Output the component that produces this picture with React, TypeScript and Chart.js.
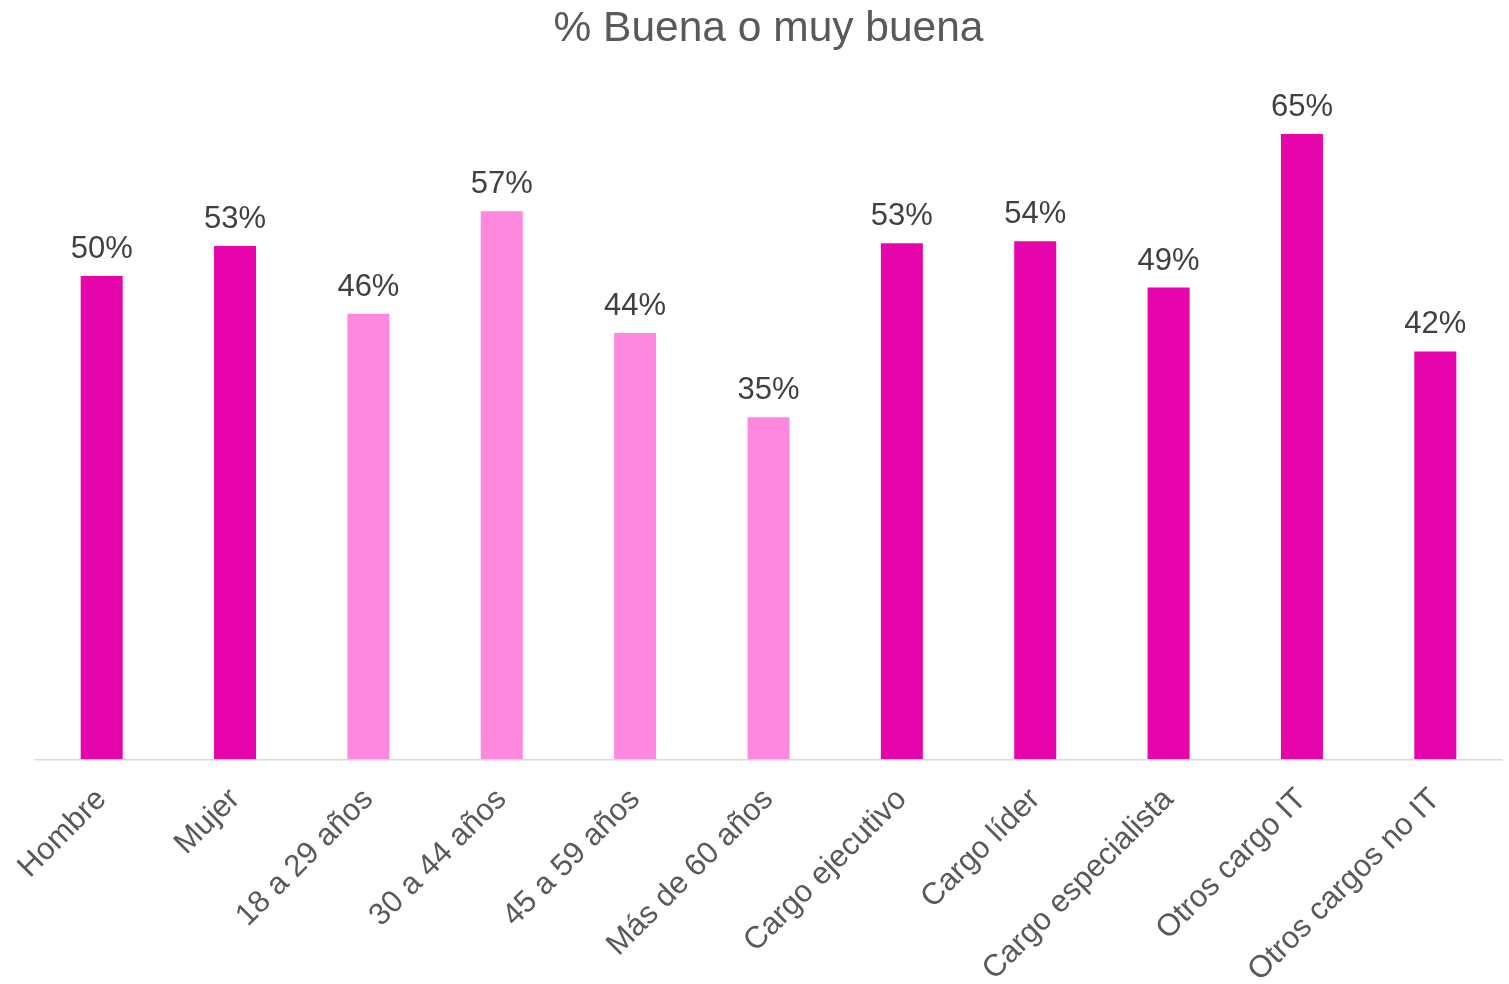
import React, { useEffect, useRef } from "react";
import { Chart, registerables } from "chart.js";

Chart.register(...registerables);

const categories = [
  "Hombre",
  "Mujer",
  "18 a 29 años",
  "30 a 44 años",
  "45 a 59 años",
  "Más de 60 años",
  "Cargo ejecutivo",
  "Cargo líder",
  "Cargo especialista",
  "Otros cargo IT",
  "Otros cargos no IT",
];
const groups = ["sexo", "sexo", "edad", "edad", "edad", "edad", "cargo", "cargo", "cargo", "cargo", "cargo"];
const values = [50, 53.1, 46.1, 56.7, 44.1, 35.4, 53.4, 53.6, 48.8, 64.7, 42.2];

const DARK = "#E605AA";
const LIGHT = "#FF88DF";
const FONT = "'Liberation Sans', Arial, sans-serif";

const dataLabelPlugin = {
  id: "dataLabels",
  afterDatasetsDraw(chart: any) {
    const ctx = chart.ctx;
    const meta = chart.getDatasetMeta(0);
    ctx.save();
    ctx.font = `31px ${FONT}`;
    ctx.fillStyle = "#404040";
    ctx.textAlign = "center";
    ctx.textBaseline = "alphabetic";
    meta.data.forEach((bar: any, i: number) => {
      const v = chart.data.datasets[0].data[i] as number;
      ctx.fillText(`${Math.round(v)}%`, bar.x, bar.y - 18);
    });
    ctx.restore();
  },
};

export default function App() {
  const ref = useRef<HTMLCanvasElement | null>(null);
  useEffect(() => {
    if (!ref.current) return;
    const chart = new Chart(ref.current, {
      type: "bar",
      data: {
        labels: categories,
        datasets: [
          {
            data: values,
            backgroundColor: groups.map((g) => (g === "edad" ? LIGHT : DARK)),
            categoryPercentage: 1,
            barPercentage: 0.315,
          },
        ],
      },
      options: {
        animation: false,
        responsive: true,
        maintainAspectRatio: false,
        layout: { padding: { left: 35, right: 7, top: 0, bottom: 0 } },
        plugins: {
          legend: { display: false },
          tooltip: { enabled: false },
          title: {
            display: true,
            text: "% Buena o muy buena",
            color: "#595959",
            font: { family: FONT, size: 42.5, weight: "normal", lineHeight: 1.2 },
            padding: { top: 4, bottom: 27.7 },
          },
        },
        scales: {
          y: {
            display: false,
            min: 0,
            max: 70,
          },
          x: {
            grid: { display: false },
            border: { display: true, color: "#D9D9D9", width: 1.5 },
            ticks: {
              color: "#595959",
              font: { family: FONT, size: 31 },
              minRotation: 45,
              maxRotation: 45,
              autoSkip: false,
              padding: 14,
            },
            afterFit: (scale: any) => {
              scale.height = 224.7;
              scale.paddingLeft = 0;
              scale.paddingRight = 0;
            },
          },
        },
      },
      plugins: [dataLabelPlugin],
    });
    return () => chart.destroy();
  }, []);
  return (
    <div style={{ position: "absolute", left: 0, top: 0, width: 1509, height: 984, background: "#fff" }}>
      <canvas ref={ref} />
    </div>
  );
}
